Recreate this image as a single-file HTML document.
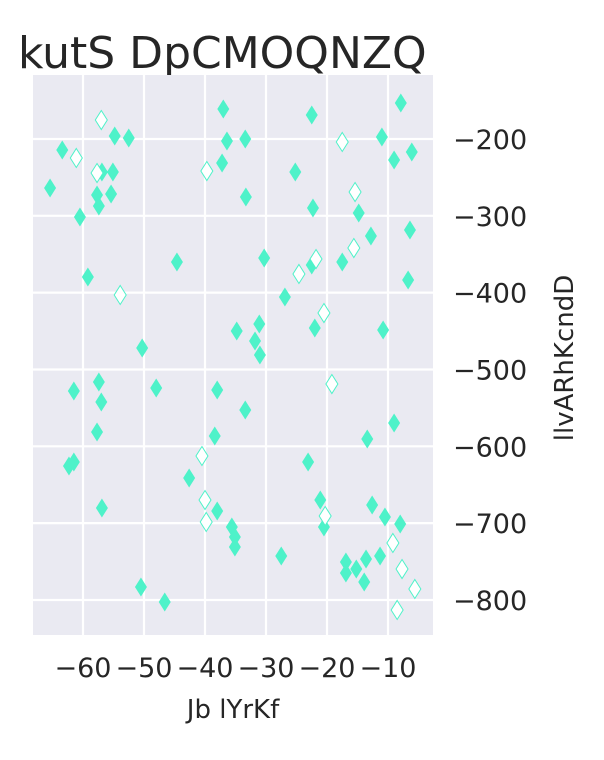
<!DOCTYPE html>
<html><head><meta charset="utf-8"><style>
body{margin:0;background:#fff;}
svg text{font-family:"DejaVu Sans","Liberation Sans",sans-serif;fill:#262626;}
</style></head><body>
<svg id="chart" width="604" height="755" viewBox="0 0 604 755" xmlns="http://www.w3.org/2000/svg">
<text x="18" y="68" font-size="44">kutS DpCMOQNZQ</text>
<rect x="33" y="75" width="400" height="560" fill="#eaeaf2"/>
<g id="grid"></g>
<g id="marks"></g>
<g id="ticks"></g>
<text x="233" y="718" font-size="26" text-anchor="middle">Jb lYrKf</text>
<text transform="translate(573,358) rotate(-90)" font-size="26" text-anchor="middle">llvARhKcndD</text>
</svg>
<script>
const xTicks=[-60,-50,-40,-30,-20,-10];
const yTicks=[-200,-300,-400,-500,-600,-700,-800];
const filledX=[-65.4,-63.4,-60.5,-54.8,-52.5,-56.9,-55.1,-57.7,-55.4,-57.4,-59.2,-44.6,-50.3,-37.0,-36.4,-37.2,-34.8,-22.5,-33.4,-25.2,-33.3,-22.3,-7.9,-11.0,-6.1,-9.0,-14.8,-6.4,-12.8,-30.3,-17.5,-22.5,-6.7,-26.9,-22.0,-10.8,-31.1,-31.8,-31.0,-61.5,-57.4,-57.0,-48.0,-38.0,-57.7,-38.4,-62.3,-61.5,-42.6,-56.9,-38.0,-35.6,-35.1,-35.1,-50.5,-46.6,-33.4,-9.0,-13.4,-23.1,-21.1,-20.5,-12.6,-10.5,-8.0,-27.5,-16.9,-16.9,-15.2,-13.6,-11.3,-13.9];
const filledY=[-263.8,-214.3,-301.5,-196.1,-198.7,-243,-243,-272.9,-271.6,-287.2,-379.6,-360.1,-472,-161,-202.6,-231.2,-449.9,-168.8,-200,-243,-275.5,-289.8,-153.1,-197.4,-216.9,-227.3,-296.3,-318.4,-326.3,-354.9,-360.1,-364,-383.5,-405.7,-446,-448.6,-440.8,-462.9,-481.1,-528,-516.3,-542.3,-524.1,-526.7,-581.4,-586.6,-625.6,-620.4,-641.2,-680.3,-684.2,-705,-718,-731,-783.1,-802.6,-552.7,-569.7,-590.5,-620.4,-669.9,-705,-676.4,-692,-701.1,-742.8,-750.6,-764.9,-759.7,-746.7,-742.8,-776.6];
const hollowX=[-57.0,-61.1,-57.7,-39.7,-53.9,-17.5,-15.4,-15.6,-21.8,-24.6,-20.5,-40.5,-40.0,-39.8,-19.2,-20.3,-9.2,-7.7,-5.6,-8.5];
const hollowY=[-175.3,-224.7,-244.3,-241.7,-403,-203.9,-269,-341.9,-356.2,-375.7,-426.5,-612.6,-669.9,-698.5,-518.9,-690.7,-725.8,-759.7,-785.7,-813];
const NS='http://www.w3.org/2000/svg';
const sx=v=>449+v*6.1;
const sy=v=>139+(-200-v)*0.7683;
const grid=document.getElementById('grid'),ticks=document.getElementById('ticks'),marks=document.getElementById('marks');
function mk(tag,attrs,parent){const e=document.createElementNS(NS,tag);for(const k in attrs)e.setAttribute(k,attrs[k]);parent.appendChild(e);return e;}
xTicks.forEach(t=>{
  const l=mk('line',{x1:sx(t),x2:sx(t),y1:75,y2:635,stroke:'#fff','stroke-width':2.2},grid);
  
  
  const tx=mk('text',{x:sx(t),y:677,'font-size':27,'text-anchor':'middle'},ticks);
  tx.textContent='\u2212'+Math.abs(t);
  
  
});
yTicks.forEach(t=>{
  const l=mk('line',{x1:33,x2:433,y1:sy(t),y2:sy(t),stroke:'#fff','stroke-width':2.2},grid);
  
  
  const tx=mk('text',{x:453,y:sy(t)+10,'font-size':27},ticks);
  tx.textContent='\u2212'+Math.abs(t);
  
  
});
function diamond(x,y){return `M${x},${y-9.5} L${x+6},${y} L${x},${y+9.5} L${x-6},${y} Z`;}
filledX.forEach((v,i)=>{
  const p=mk('path',{d:diamond(sx(v),sy(filledY[i])),fill:'#4ef2c9'},marks);
  
  
});
hollowX.forEach((v,i)=>{
  const p=mk('path',{d:diamond(sx(v),sy(hollowY[i])),fill:'#fff',stroke:'#4ef2c9','stroke-width':1},marks);
  
  
});
</script>
</body></html>
